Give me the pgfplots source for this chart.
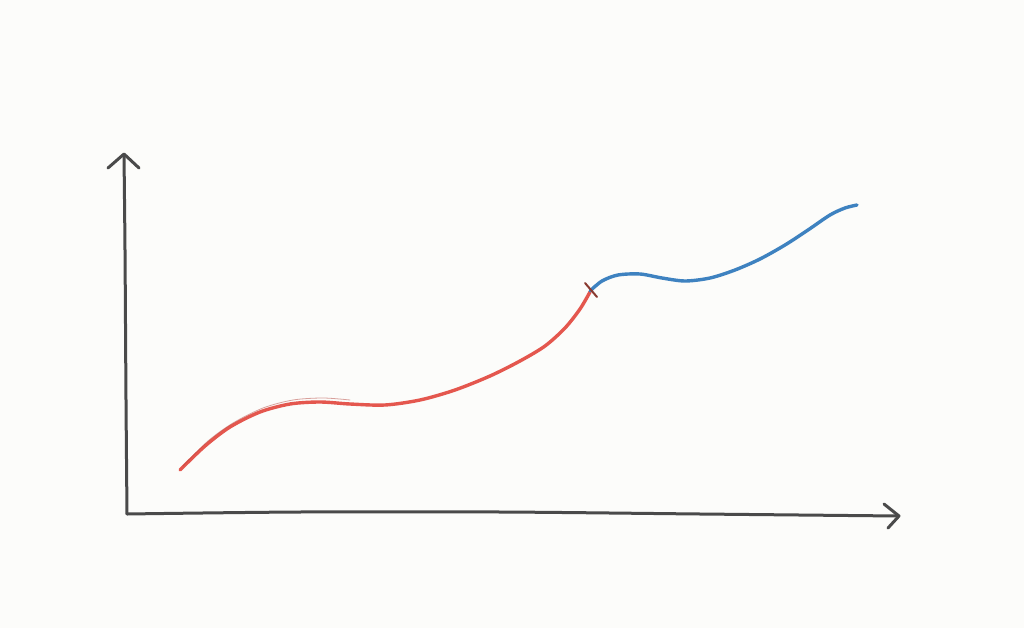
\documentclass[border=0pt]{standalone}
\usepackage{pgfplots}
\pgfplotsset{compat=1.18}
\definecolor{bg}{HTML}{FCFCFA}
\definecolor{ax}{HTML}{4A4A4A}
\definecolor{rd}{HTML}{E4574E}
\definecolor{bl}{HTML}{3E82C0}
\definecolor{tk}{HTML}{8A3A30}
\begin{document}
\begin{tikzpicture}
\begin{axis}[
  width=1024pt, height=628pt, scale only axis,
  xmin=0, xmax=1024, ymin=0, ymax=628,
  hide axis, clip=false,
  y dir=reverse,
]
\path[fill=bg] (rel axis cs:0,0) rectangle (rel axis cs:1,1);
% axes
\addplot[ax, line width=3pt, line cap=round, line join=round, smooth] coordinates {(124,155) (125,250) (126,400) (127,514)};
\addplot[ax, line width=3pt, line cap=round, line join=round, smooth] coordinates {(127,514) (300,512) (500,512) (700,514) (898,516)};
\addplot[ax, line width=3pt, line cap=round, line join=round] coordinates {(108,168) (124,154) (139,168)};
\addplot[ax, line width=3pt, line cap=round, line join=round] coordinates {(884,504) (899,516) (888,528)};
% red segment
\addplot[rd, line width=3.4pt, smooth, line cap=round] coordinates {
(180,470) (205,446) (230,427) (260,412) (290,404) (320,402) (350,404) (385,405) (420,400) (455,390) (490,376) (520,361) (545,346) (565,328) (580,309) (590,292)};
\addplot[rd!80!black, line width=0.8pt, smooth, line cap=round, opacity=0.5] coordinates {
(183,466) (208,441) (233,423) (263,408) (293,400) (323,398) (350,400)};
% blue segment
\addplot[bl, line width=3.4pt, smooth, line cap=round] coordinates {
(590,291) (602,281) (618,275) (640,274) (662,278) (685,281) (710,278) (735,270) (760,259) (785,245) (808,230) (830,215) (845,208) (857,205)};
% junction tick
\addplot[tk, line width=2pt, line cap=round] coordinates {(585,283) (597,297)};
\end{axis}
\end{tikzpicture}
\end{document}
